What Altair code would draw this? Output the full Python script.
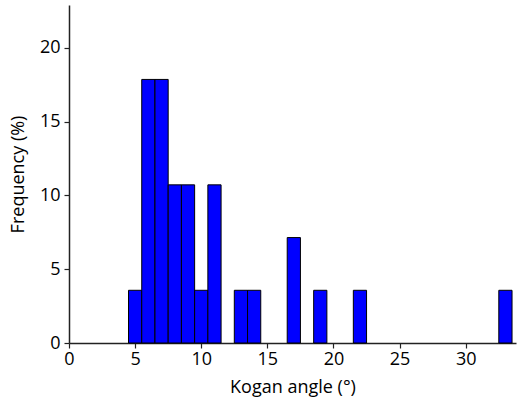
import altair as alt
import pandas as pd

angle_centers = [5, 6, 7, 8, 9, 10, 11, 13, 14, 17, 19, 22, 33]
counts = [1, 5, 5, 3, 3, 1, 3, 1, 1, 2, 1, 1, 1]
bin_width = 1.0
x_ticks = [0, 5, 10, 15, 20, 25, 30]
y_ticks = [0, 5, 10, 15, 20]

total = sum(counts)
df = pd.DataFrame({
    "start": [c - bin_width / 2 for c in angle_centers],
    "end": [c + bin_width / 2 for c in angle_centers],
    "freq": [100.0 * n / total for n in counts],
})

FONT = "Open Sans"

chart = alt.Chart(df).mark_rect(
    fill="#0000FF", stroke="black", strokeWidth=1
).encode(
    x=alt.X("start:Q", scale=alt.Scale(domain=[0, 33.8], nice=False, zero=False),
            axis=alt.Axis(values=x_ticks, title="Kogan angle (°)", grid=False,
                          tickSize=5, labelPadding=2, titleY=44, titleBaseline="middle",
                          labelFlush=False)),
    x2="end:Q",
    y=alt.Y("freq:Q", scale=alt.Scale(domain=[0, 22.9], nice=False),
            axis=alt.Axis(values=y_ticks, title="Frequency (%)", grid=False,
                          tickSize=5, labelPadding=4, titleX=-51, titleY=169,
                          titleAngle=-90, titleAlign="center", titleBaseline="middle")),
    y2=alt.Y2(datum=0),
).properties(
    width=447, height=338,
    autosize=alt.AutoSizeParams(type="none"),
    padding={"left": 69, "top": 5, "right": 5, "bottom": 62},
).configure_view(stroke=None).configure_axis(
    domainColor="#222222", tickColor="#222222", domainWidth=1.5, tickWidth=1.2,
    labelFont=FONT, titleFont=FONT, labelFontSize=18, titleFontSize=18,
    labelColor="black", titleColor="black", titleFontWeight="normal",
)

chart.save("out.html", embed_options={"renderer": "svg", "actions": False})
